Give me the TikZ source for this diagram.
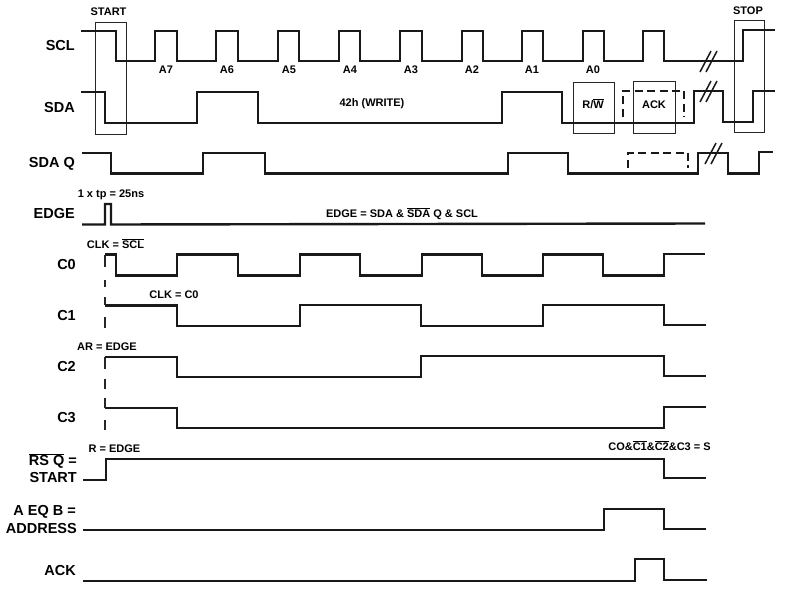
\documentclass[tikz,border=0pt]{standalone}
\usepackage{fontspec}
\setmainfont{Liberation Sans}
\usepackage{tikz}
\newcommand{\ovl}[1]{$\overline{\mbox{#1}}$}

\begin{document}
\begin{tikzpicture}[x=1pt,y=-1pt,
          wave/.style={line width=2.4pt,black!90},
          ackwave/.style={line width=2.2pt,black!90,dash pattern=on 8pt off 4.5pt},
          framebox/.style={line width=0.9pt,black!85},
          breakmark/.style={line width=1.5pt,black!90},
          guide/.style={line width=1.2pt,black!85},
          sig/.style={inner sep=0pt,anchor=mid east,font=\fontsize{14.5}{16}\selectfont\bfseries},
          note/.style={inner sep=0pt,anchor=mid,font=\fontsize{11}{13}\selectfont\bfseries}]
  \useasboundingbox (0,0) rectangle (785,591);
  % frames
  \draw[framebox] (95,22) rectangle (126,134);
  \draw[framebox] (734,20) rectangle (764,132);
  \draw[framebox] (573,82) rectangle (614,133);
  \draw[framebox] (633,81) rectangle (675,133);
  % waveforms
  \draw[wave] (81,31) -| (116,61) -| (155,31) -| (177,61) -| (216,31) -| (238,61) -| (278,31) -| (299,61)
    -| (339,31) -| (360,61) -| (400,31) -| (422,61) -| (462,31) -| (483,61) -| (522,31) -| (543,61)
    -| (583,31) -| (604,61) -| (643,31) -| (664,61) -| (743,30) -- (775,30);
  \draw[wave] (81,92) -| (105,123) -| (197,92) -| (258,123) -| (502,92) -| (562,123)
    -| (694,91) -| (723,122) -| (753,91) -- (775,91);
  \draw[wave] (82,153) -| (111,173.5) -| (203,153) -| (265,173.5) -| (508,153) -| (568,173.5)
    -| (698,153) -| (728,173.5) -| (759,152) -- (773,152);
  \draw[wave] (82,224.5) -| (105,204) -| (111,224.5) -- (705,223.5);
  \draw[wave] (105,254.5) -| (116,275.5) -| (177,254.5) -| (238,275.5) -| (300,254.5) -| (360,275.5)
    -| (422,254.5) -| (482,275.5) -| (543,254.5) -| (603,275.5) -| (664,254) -- (705,254);
  \draw[wave] (105,305.5) -| (177,326) -| (300,305) -| (421,326) -| (543,305) -| (664,325) -- (706,325);
  \draw[wave] (105,357) -| (177,377) -| (421,356) -| (664,376) -- (706,376);
  \draw[wave] (105,408) -| (177,428) -| (664,407) -- (706,407);
  \draw[wave] (83,480) -| (106,459) -| (664,478) -- (706,478);
  \draw[wave] (83,530) -| (604,509) -| (664,529) -- (706,529);
  \draw[wave] (83,581) -| (635,559) -| (664,580) -- (707,580);
  % dashed levels
  \draw[ackwave] (623,117) |- (684,91) -- (684,117);
  \draw[ackwave] (628,168) |- (688,153) -- (688,168);
  % start guide
  \foreach \ya/\yb in {255/267,280/287,297/305,317/328,357/369,379/389,398/408,420/430}
    \draw[guide] (105,\ya) -- (105,\yb);
  % breaks
  \foreach \xa/\ya in {700/72,700/102,705/164}{
    \draw[breakmark] (\xa,\ya) -- ++(11,-21);
    \draw[breakmark] (\xa+6,\ya) -- ++(11,-21);
  }
  % signal names
  \node[sig] (scl) at (75,48) {SCL};
  \node[sig] (sda) at (75,110) {SDA};
  \node[sig] (sdaq) at (75,165) {SDA Q};
  \node[sig] (edge) at (75,216) {EDGE};
  \node[sig] (czero) at (76,267) {C0};
  \node[sig] (cone) at (76,318) {C1};
  \node[sig] (ctwo) at (76,369) {C2};
  \node[sig] (cthree) at (76,420) {C3};
  \node[sig] (rsq) at (77,463) {\ovl{RS Q} =};
  \node[sig] (start) at (77,480) {START};
  \node[sig] (aeqb) at (76,513) {A EQ B =};
  \node[sig] (address) at (77,531) {ADDRESS};
  \node[sig] (ack) at (76,573) {ACK};
  % notes
  \foreach \txt/\xa in {A7/166,A6/227,A5/289,A4/350,A3/411,A2/472,A1/532,A0/593}
    \node[note] (bit\txt) at (\xa,71) {\txt};
  \node[note] (startlbl) at (108.5,13) {START};
  \node[note] (stoplbl) at (748,12) {STOP};
  \node[note] (write) at (372,104) {42h (WRITE)};
  \node[note] (rw) at (593,106) {R/\ovl{W}};
  \node[note] (acklbl) at (654,106) {ACK};
  \node[note] (tp) at (111,195) {1 x tp = 25ns};
  \node[note] (edgeeq) at (402,215) {EDGE = SDA \& \ovl{SDA} Q \& SCL};
  \node[note] (clkscl) at (115.5,246) {CLK = \ovl{SCL}};
  \node[note] (clkc) at (174,296) {CLK = C0};
  \node[note] (ar) at (107,348) {AR = EDGE};
  \node[note] (redge) at (114.5,450) {R = EDGE};
  \node[note] (seq) at (659.5,448) {CO\&\ovl{C1}\&\ovl{C2}\&C3 = S};
\end{tikzpicture}
\end{document}
